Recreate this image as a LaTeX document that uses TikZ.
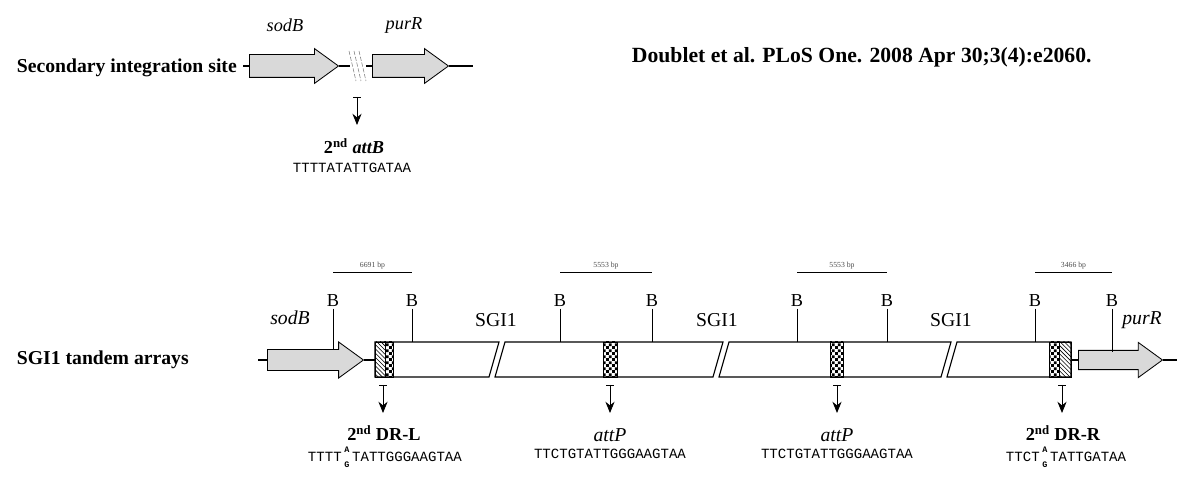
\documentclass[tikz,border=0pt]{standalone}
\usepackage{fontspec}
\setmainfont{Liberation Serif}
\setmonofont{Liberation Mono}
\usetikzlibrary{arrows.meta,positioning,shapes.arrows,patterns}

\pgfdeclarepatternformonly{finechecker}{\pgfpointorigin}{\pgfqpoint{4.4pt}{4.4pt}}{\pgfqpoint{4.4pt}{4.4pt}}{%
  \pgfpathrectangle{\pgfpointorigin}{\pgfqpoint{2.2pt}{2.2pt}}%
  \pgfpathrectangle{\pgfqpoint{2.2pt}{2.2pt}}{\pgfqpoint{2.2pt}{2.2pt}}%
  \pgfusepath{fill}}

\tikzset{
  gene/.style={single arrow, draw, fill=gray!30, line width=0.6pt, inner xsep=0pt,
    single arrow tip angle=72, anchor=tail},
  bsite/.style={font=\fontsize{13}{13}\selectfont, inner sep=1pt},
  gname/.style={font=\fontsize{14}{14}\selectfont\itshape},
  sgi/.style={font=\fontsize{14}{14}\selectfont},
  rowlabel/.style={font=\fontsize{14}{14}\selectfont\bfseries},
  bpbar/.style={line width=0.6pt},
  bplabel/.style={font=\fontsize{5.5}{5.5}\selectfont, text=gray!60!black, inner sep=1.5pt},
  site/.style={font=\fontsize{13}{13}\selectfont\bfseries, inner sep=1pt},
  seq/.style={font=\fontsize{10}{10}\ttfamily, inner sep=0.5pt},
  wobble/.style={font=\fontsize{6}{10.5}\selectfont\ttfamily\bfseries, inner sep=0pt, align=center},
  marker/.style={-{Stealth[length=8pt,width=6.5pt]}, line width=0.6pt},
  backbone/.style={line width=0.8pt},
  insert/.style={line width=0.8pt, fill=white},
  repeatbox/.style={line width=0.6pt},
}

\begin{document}
\begin{tikzpicture}[x=0.025cm,y=-0.025cm]
\useasboundingbox (0,0) rectangle (1177,484);
% ---- secondary integration site ----
\node[rowlabel,anchor=base west] (row1) at (12,73) {Secondary integration site};
\node[font=\fontsize{15.4}{15.4}\selectfont\bfseries,anchor=base west] (cite) at (627,63)
  {Doublet et al. PLoS One. 2008 Apr 30;3(4):e2060.};
\node[gene,minimum height=2.225cm,inner ysep=0.275cm,single arrow head extend=0.15cm] (sodA) at (249,66) {};
\node[gene,minimum height=1.9cm,inner ysep=0.275cm,single arrow head extend=0.15cm] (purA) at (372,66) {};
\node[gname,font=\fontsize{13}{13}\selectfont\itshape] (sodAn) at (285,25) {sodB};
\node[gname,font=\fontsize{13}{13}\selectfont\itshape] (purAn) at (404,25) {purR};
\draw[backbone] (243,66) -- (sodA.tail);
\draw[backbone] (sodA.tip) -- (350,66);
\draw[backbone] (366,66) -- (purA.tail);
\draw[backbone] (purA.tip) -- (473,66);
\foreach \d in {0,5,10}
  \draw[gray,dashed,dash pattern=on 3pt off 1.2pt] (349+\d,51) -- (356+\d,81);
\coordinate (tB) at (357,97);
\coordinate (aB) at (357,125);
\draw[line width=0.6pt] (353,97) -- (361,97);
\node[site] (attB) at (354,146) {2\textsuperscript{nd} \textit{attB}};
\node[seq] (attBs) at (352,168) {TTTTATATTGATAA};
\draw[marker] (tB) -- (aB);
% ---- SGI1 tandem arrays ----
\node[rowlabel,anchor=base west] (row2) at (12,365) {SGI1 tandem arrays};
\node[gene,minimum height=2.4cm,inner ysep=0.25cm,single arrow head extend=0.19cm] (sodB) at (267,360) {};
\node[gene,minimum height=2.1cm,inner ysep=0.23cm,single arrow head extend=0.2cm] (purB) at (1078,360) {};
\node[gname] (sodBn) at (290,318) {sodB};
\node[gname] (purBn) at (1142,320) {purR};
\draw[backbone] (258,360) -- (sodB.tail);
\draw[backbone] (sodB.tip) -- (375,360);
\draw[backbone] (1071,360) -- (purB.tail);
\draw[backbone] (purB.tip) -- (1177,360);
% broken SGI1 copies
\draw[insert] (375,342) -- (499,342) -- (489,377) -- (375,377) -- cycle;
\draw[insert] (505,342) -- (723,342) -- (713,377) -- (495,377) -- cycle;
\draw[insert] (729,342) -- (951,342) -- (941,377) -- (719,377) -- cycle;
\draw[insert] (957,342) -- (1071,342) -- (1071,377) -- (947,377) -- cycle;
% direct repeats and attP
\draw[repeatbox,pattern=north west lines] (375,342) rectangle (385,377);
\draw[repeatbox,pattern=finechecker] (385,342) rectangle (393,377);
\draw[repeatbox,pattern=finechecker] (603,342) rectangle (617,377);
\draw[repeatbox,pattern=finechecker] (830,342) rectangle (843,377);
\draw[repeatbox,pattern=finechecker] (1049,342) rectangle (1059,377);
\draw[repeatbox,pattern=north west lines] (1059,342) rectangle (1071,377);
% B sites
\foreach \x/\n/\y in {333/b1/350,412/b2/342,560/b3/342,652/b4/342,797/b5/342,887/b6/342,1035/b7/342,1112/b8/352}{
  \node[bsite] (\n) at (\x,301) {B};
  \draw[line width=0.6pt] (\n.south) -- (\x,\y);
}
\foreach \xa/\xb/\len in {333/412/6691,560/652/5553,797/887/5553,1035/1112/3466}
  \draw[bpbar] (\xa,272) -- (\xb,272) node[midway,above,bplabel] {\len\ bp};
\node[sgi] (sgi1) at (496,320) {SGI1};
\node[sgi] (sgi2) at (717,320) {SGI1};
\node[sgi] (sgi3) at (951,320) {SGI1};
% site labels
\node[site] (drl) at (384,433) {2\textsuperscript{nd} DR-L};
\node[site,font=\fontsize{14}{14}\selectfont\itshape] (attP1) at (610,435) {attP};
\node[site,font=\fontsize{14}{14}\selectfont\itshape] (attP2) at (837,435) {attP};
\node[site] (drr) at (1063,433) {2\textsuperscript{nd} DR-R};
\node[seq,anchor=west] (drls1) at (307,457) {TTTT};
\node[wobble,right=1pt of drls1] (drlag) {A\\G};
\node[seq,right=1pt of drlag] (drls2) {TATTGGGAAGTAA};
\node[seq] (attP1s) at (610,454) {TTCTGTATTGGGAAGTAA};
\node[seq] (attP2s) at (837,454) {TTCTGTATTGGGAAGTAA};
\node[seq,anchor=west] (drrs1) at (1005,457) {TTCT};
\node[wobble,right=1pt of drrs1] (drrag) {A\\G};
\node[seq,right=1pt of drrag] (drrs2) {TATTGATAA};
\foreach \x/\n in {383/drl,610/attP1,837/attP2,1062/drr}{
  \coordinate (t\n) at (\x,385);
  \coordinate (a\n) at (\x,413);
  \draw[line width=0.6pt] (\x-4,385) -- (\x+4,385);
  \draw[marker] (t\n) -- (a\n);
}
\end{tikzpicture}
\end{document}
